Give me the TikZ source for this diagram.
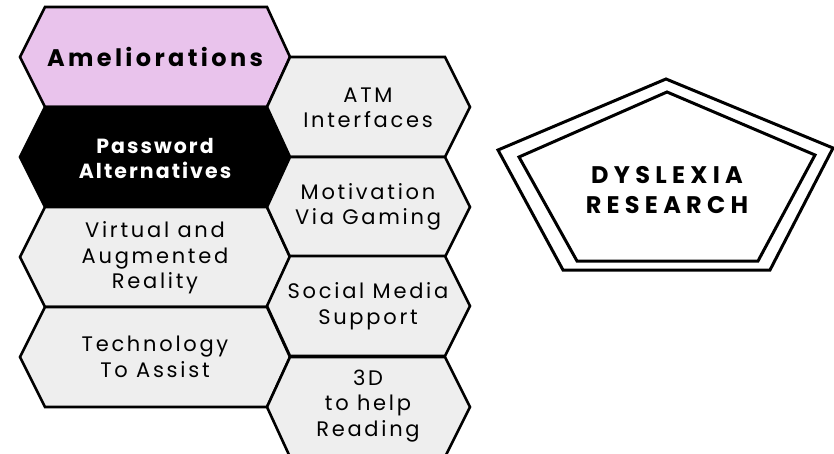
\documentclass[tikz,border=0pt]{standalone}
\usepackage{fontspec}
\setmainfont{Poppins}
\newfontfamily\cellfont[LetterSpace=13]{Poppins}
\newfontfamily\headfont[LetterSpace=14]{Poppins}
\newfontfamily\titlefont[LetterSpace=22]{Poppins}
\newfontfamily\boldcell[LetterSpace=10]{Poppins}
\definecolor{lilac}{RGB}{233,195,236}
\definecolor{cellgray}{RGB}{238,238,238}
\tikzset{
  hexcell/.style={draw=black, line width=2.6pt, line join=miter, fill=cellgray},
  celltext/.style={align=center, text=black, font=\cellfont\fontsize{21}{25.5}\selectfont},
  penta/.style={draw=black, line width=3pt, line join=miter},
}
% hexagon with pointy left/right ends: left tip x, right tip x, centre y,
% left inset, right inset (height is always 100)
\newcommand{\hexpath}[5]{%
  (#1,#3) -- (#1+#4,#3-50) -- (#2-#5,#3-50) -- (#2,#3) -- (#2-#5,#3+50) -- (#1+#4,#3+50) -- cycle}
\begin{document}
\begin{tikzpicture}[x=1pt,y=-1pt]
\useasboundingbox (0,0) rectangle (834,454);

% left column of cells
\draw[hexcell, fill=lilac] \hexpath{20}{290}{57}{25}{23};
\draw[hexcell, fill=black] \hexpath{20}{290}{157}{25}{23};
\draw[hexcell] \hexpath{20}{290}{257}{25}{23};
\draw[hexcell] \hexpath{20}{290}{357}{25}{23};

% right column of cells
\draw[hexcell] \hexpath{267}{470}{107}{23}{25};
\draw[hexcell] \hexpath{267}{470}{207}{23}{25};
\draw[hexcell] \hexpath{267}{470}{306}{23}{25};
\draw[hexcell] \hexpath{267}{470}{407}{23}{25};

% cell labels
\node[align=center, font=\headfont\bfseries\fontsize{24}{25}\selectfont] (amel) at (155,57) {Ameliorations};
\node[celltext, text=white, font=\boldcell\bfseries\fontsize{20.5}{25}\selectfont] (pass) at (155,158) {Password\\Alternatives};
\node[celltext] (vr) at (155,258) {Virtual and\\Augmented\\Reality};
\node[celltext] (tech) at (155,357) {Technology\\To Assist};
\node[celltext] (atm) at (368,108) {ATM\\Interfaces};
\node[celltext] (game) at (368,207) {Motivation\\Via Gaming};
\node[celltext] (social) at (368,306) {Social Media\\Support};
\node[celltext] (read) at (368,406) {3D\\to help\\Reading};

% double pentagon frame
\draw[penta] (666,79) -- (833,148) -- (770,270) -- (563,270) -- (498,150) -- cycle;
\draw[penta] (667,92) -- (815,155) -- (758,261) -- (577,261) -- (519,157) -- cycle;
\node[align=center, font=\titlefont\bfseries\fontsize{24}{30}\selectfont] (dys) at (667,190) {DYSLEXIA\\RESEARCH};
\end{tikzpicture}
\end{document}
